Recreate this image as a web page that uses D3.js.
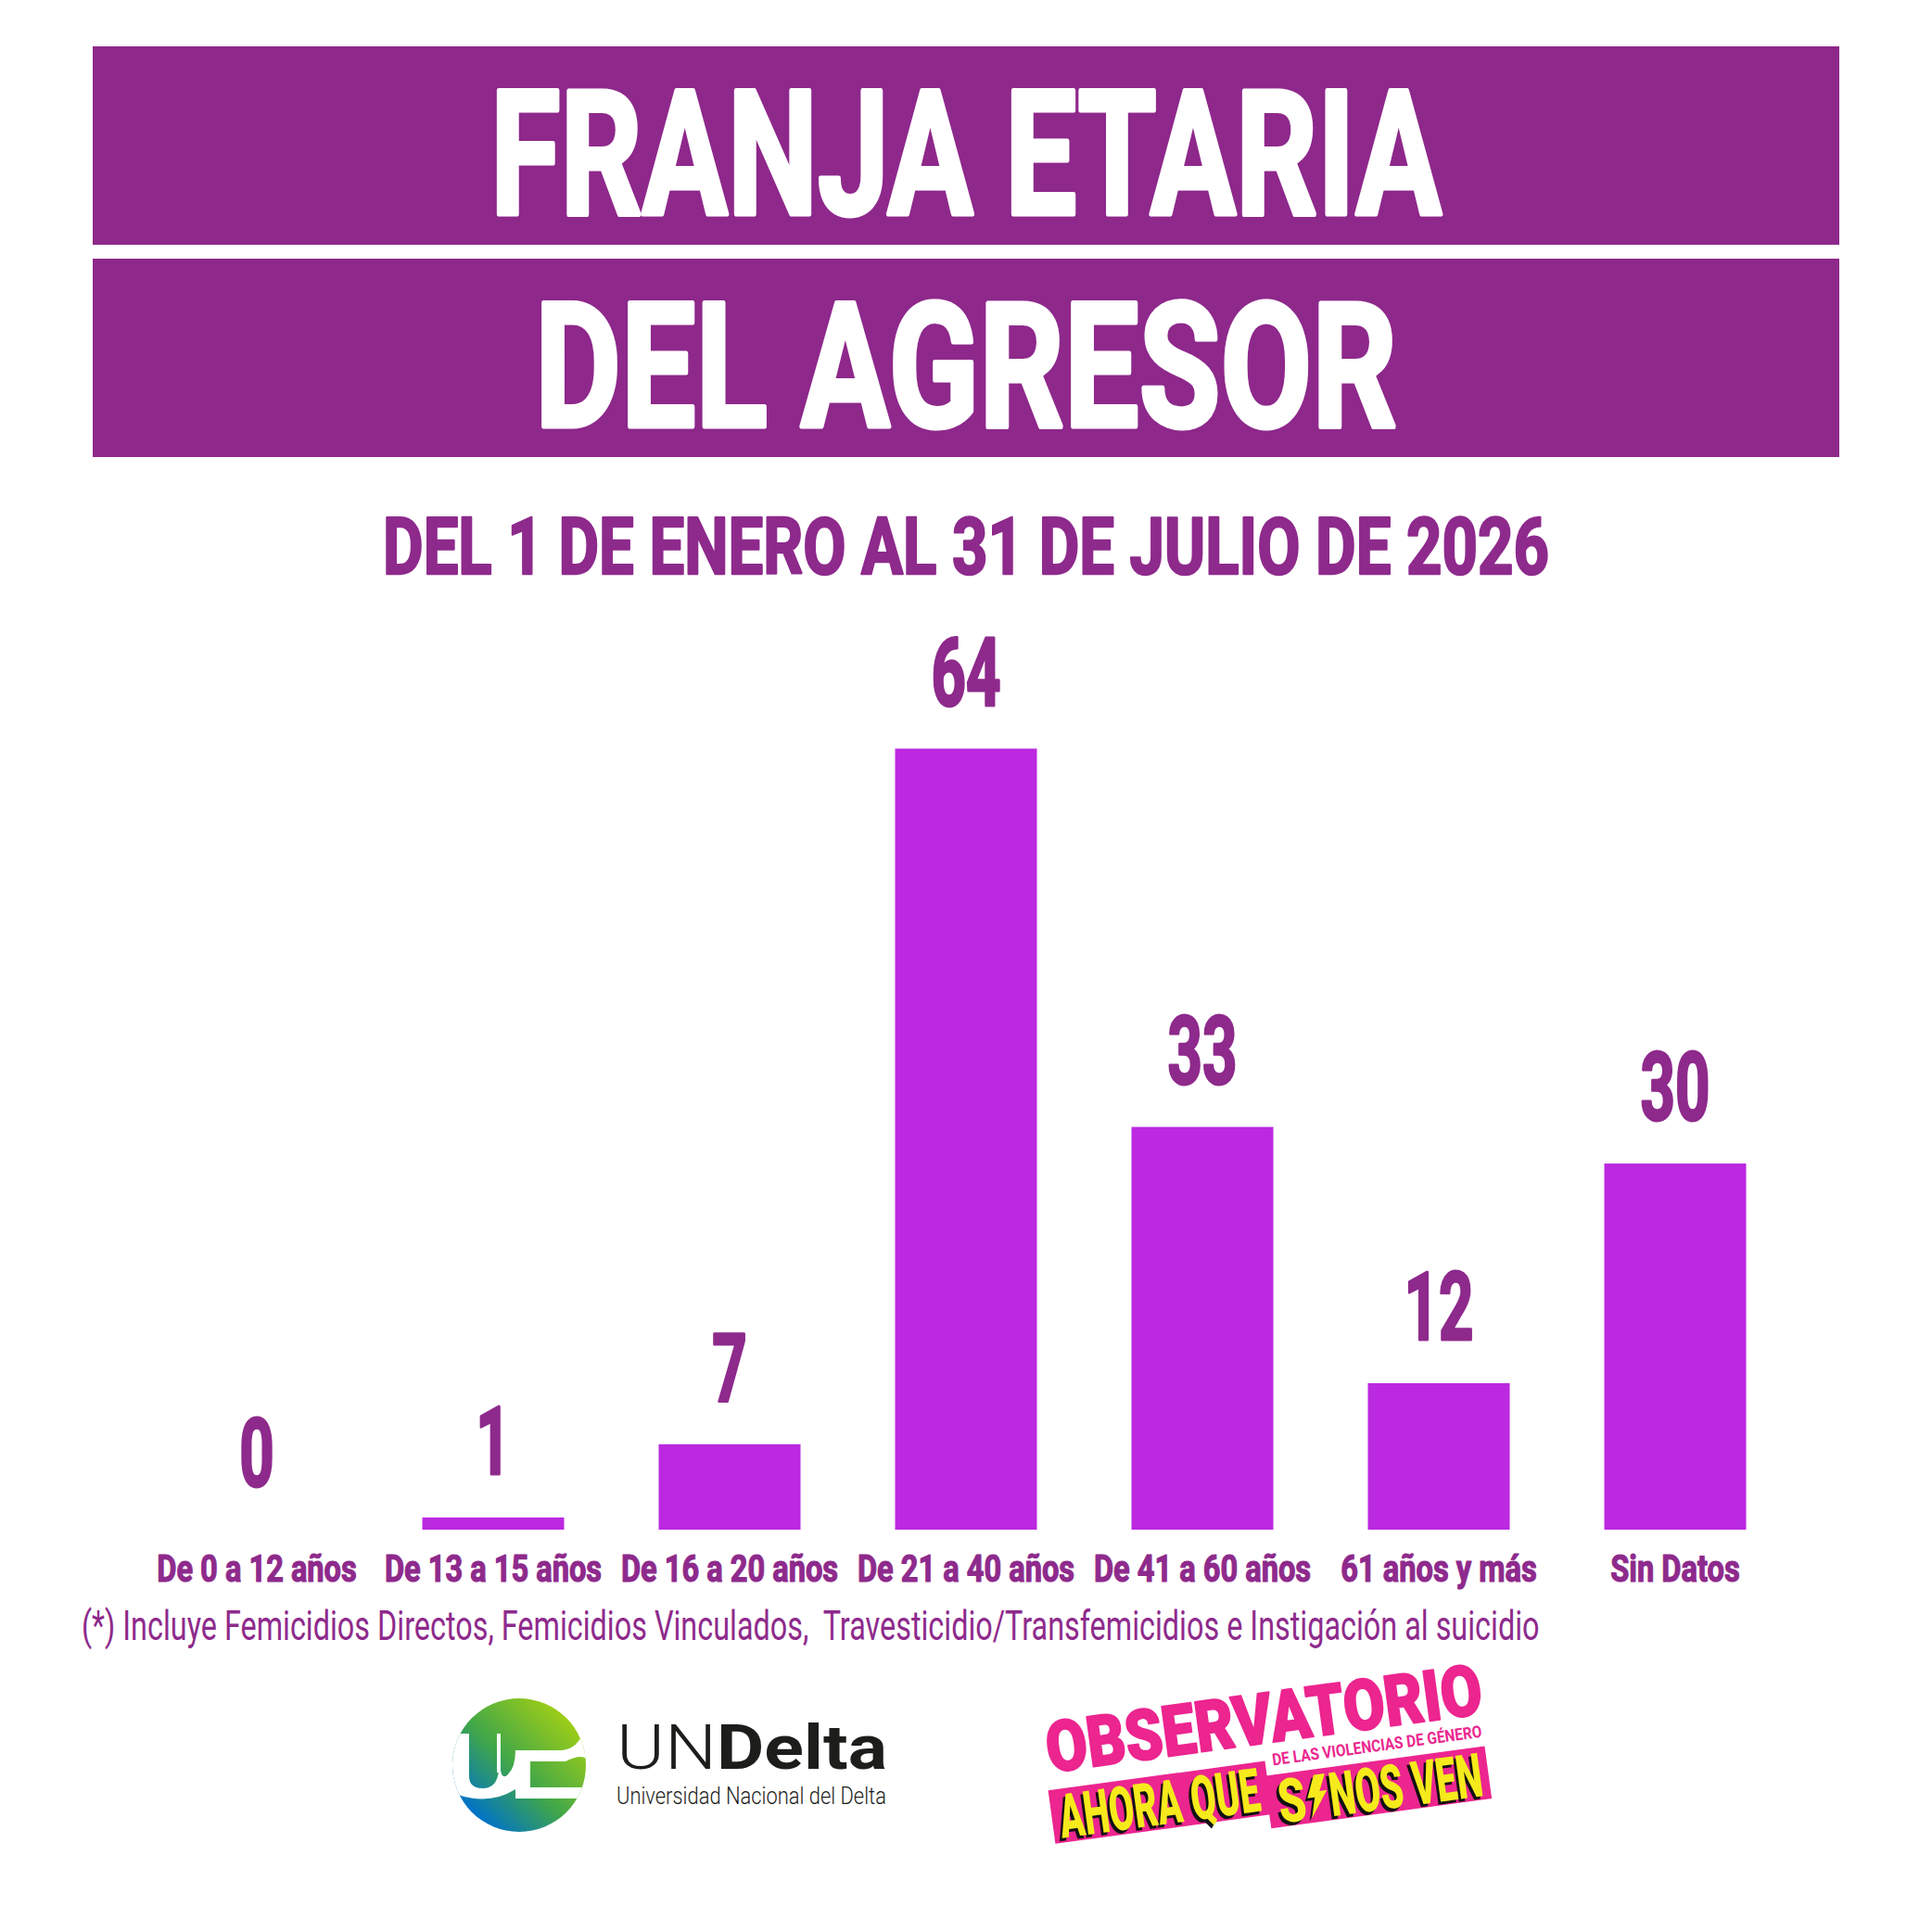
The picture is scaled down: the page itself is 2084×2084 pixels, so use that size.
<!DOCTYPE html>
<html>
<head>
<meta charset="utf-8">
<script src="https://cdn.jsdelivr.net/npm/d3@7"></script>
<style>
  body { margin: 0; background: #fff; }
  text { white-space: pre; }
</style>
</head>
<body>
<div id="chart"></div>
<script>
// data
const categories = ["De 0 a 12 años", "De 13 a 15 años", "De 16 a 20 años", "De 21 a 40 años",
                    "De 41 a 60 años", "61 años y más", "Sin Datos"];
const values = [0, 1, 7, 64, 33, 12, 30];
const titleLines = ["FRANJA ETARIA", "DEL AGRESOR"];
const subtitle = "DEL 1 DE ENERO AL 31 DE JULIO DE 2026";
const footnote = "(*) Incluye Femicidios Directos, Femicidios Vinculados,  Travesticidio/Transfemicidios e Instigación al suicidio";

const W = 2084, H = 2084;
const purple = "#8e288b";
const textPurple = "#8e2a8c";
const barColor = "#bb29e1";
const font = "Roboto, 'Open Sans', sans-serif";

const svg = d3.select("#chart").append("svg")
    .attr("width", W)
    .attr("height", H)
    .attr("viewBox", `0 0 ${W} ${H}`);

svg.append("rect").attr("width", W).attr("height", H).attr("fill", "#fff");

// horizontal squeeze, stands in for the condensed face of the original
function squeezeBy(sel, k) {
    sel.each(function () {
        const t = d3.select(this);
        const x = +t.attr("x") || 0, y = +t.attr("y") || 0;
        t.attr("x", 0).attr("y", 0)
            .attr("transform", `translate(${x},${y}) scale(${k},1)`);
    });
}
function squeezeTo(sel, w) {
    sel.each(function () {
        const n = this.getComputedTextLength();
        d3.select(this).call(squeezeBy, w / n);
    });
}
// a same-colour outline makes the strokes as heavy as the original face
function heavy(sel, color, sw) {
    sel.attr("stroke", color).attr("stroke-width", sw).attr("stroke-linejoin", "round");
}

// title bands
const bands = [{ y: 50, h: 214, base: 233, w: 1026 }, { y: 279, h: 214, base: 462, w: 930 }];
bands.forEach((b, i) => {
    svg.append("rect")
        .attr("x", 100).attr("y", b.y)
        .attr("width", 1884).attr("height", b.h)
        .attr("fill", purple);
    svg.append("text")
        .attr("x", W / 2).attr("y", b.base - 2)
        .attr("text-anchor", "middle")
        .attr("font-family", font).attr("font-weight", 700)
        .attr("font-size", 187)
        .attr("fill", "#fff")
        .call(heavy, "#fff", 5)
        .text(titleLines[i])
        .call(squeezeTo, b.w);
});

svg.append("text")
    .attr("x", W / 2).attr("y", 619)
    .attr("text-anchor", "middle")
    .attr("font-family", font).attr("font-weight", 700)
    .attr("font-size", 86)
    .attr("fill", textPurple)
    .call(heavy, textPurple, 2.5)
    .text(subtitle)
    .call(squeezeTo, 1258);

// bar chart
const x = d3.scaleBand()
    .domain(categories)
    .range([149.5, 1934.5])
    .paddingInner(0.4)
    .paddingOuter(0.2);

const y = d3.scaleLinear()
    .domain([0, 64])
    .range([1650, 807.5]);

const data = categories.map((c, i) => ({ cat: c, value: values[i] }));

svg.append("g").selectAll("rect")
    .data(data)
    .join("rect")
    .attr("x", d => x(d.cat))
    .attr("y", d => y(d.value))
    .attr("width", x.bandwidth())
    .attr("height", d => y(0) - y(d.value))
    .attr("fill", barColor);

svg.append("g").selectAll("text")
    .data(data)
    .join("text")
    .attr("x", d => x(d.cat) + x.bandwidth() / 2)
    .attr("y", d => y(d.value) - 47)
    .attr("text-anchor", "middle")
    .attr("font-family", font).attr("font-weight", 700)
    .attr("font-size", 102)
    .attr("fill", textPurple)
    .call(heavy, textPurple, 3)
    .text(d => d.value)
    .call(squeezeBy, 0.64);

// category axis, no line or ticks
const xAxis = svg.append("g")
    .attr("transform", "translate(0,1706)")
    .call(d3.axisBottom(x).tickSize(0).tickPadding(0));
xAxis.select(".domain").remove();
xAxis.selectAll("text")
    .attr("dy", 0)
    .attr("font-family", font).attr("font-weight", 700)
    .attr("font-size", 40)
    .attr("fill", textPurple)
    .call(heavy, textPurple, 1.2)
    .call(squeezeBy, 0.815);

svg.append("text")
    .attr("x", 88).attr("y", 1769)
    .attr("font-family", font).attr("font-weight", 400)
    .attr("font-size", 45)
    .attr("fill", textPurple)
    .text(footnote)
    .call(squeezeTo, 1573);

// UNDelta logo
const defs = svg.append("defs");
const grad = defs.append("linearGradient").attr("id", "undGrad")
    .attr("x1", "15%").attr("y1", "85%").attr("x2", "85%").attr("y2", "15%");
grad.append("stop").attr("offset", "0%").attr("stop-color", "#0073c8");
grad.append("stop").attr("offset", "45%").attr("stop-color", "#3fa64a");
grad.append("stop").attr("offset", "100%").attr("stop-color", "#9ccc18");
defs.append("clipPath").attr("id", "undClip")
    .append("circle").attr("cx", 76).attr("cy", 76).attr("r", 72);

const und = svg.append("g").attr("transform", "translate(484,1828)");
und.append("circle").attr("cx", 76).attr("cy", 76).attr("r", 72).attr("fill", "url(#undGrad)");
const undMarks = und.append("g").attr("clip-path", "url(#undClip)").attr("fill", "#fff");
undMarks.append("rect").attr("x", 0).attr("y", 42).attr("width", 22).attr("height", 48);
undMarks.append("rect").attr("x", 52).attr("y", 42).attr("width", 4).attr("height", 42);
undMarks.append("path")
    .attr("d", "M0 88 H22 Q22 101 37 101 Q52 101 54 82 H56 Q58 92 64 86 Q72 78 72 60 V102 Q40 122 0 104 Z");
undMarks.append("rect").attr("x", 72).attr("y", 60).attr("width", 16).attr("height", 52);
undMarks.append("rect").attr("x", 72).attr("y", 60).attr("width", 54).attr("height", 12);
undMarks.append("rect").attr("x", 72).attr("y", 100).attr("width", 90).attr("height", 12);
undMarks.append("path")
    .attr("d", "M122 60 Q140 58 146 38 L160 38 L160 72 L150 72 Q146 62 126 72 Z");

const undText = svg.append("text")
    .attr("x", 665).attr("y", 1908)
    .attr("font-family", font)
    .attr("font-size", 66)
    .attr("fill", "#1d1d1b");
undText.append("tspan").attr("font-weight", 300).text("UN");
undText.append("tspan").attr("font-weight", 700).text("Delta");
undText.call(squeezeTo, 292);

svg.append("text")
    .attr("x", 665).attr("y", 1946)
    .attr("font-family", font).attr("font-weight", 300)
    .attr("font-size", 25)
    .attr("fill", "#1d1d1b")
    .text("Universidad Nacional del Delta")
    .call(squeezeTo, 291);

// Observatorio logo, tilted
const pink = "#ec258f", yellow = "#f6ea1c";
const obs = svg.append("g").attr("transform", "translate(1132,1912) rotate(-7.75)");
obs.append("text")
    .attr("x", 0).attr("y", 0)
    .attr("font-family", font).attr("font-weight", 900)
    .attr("font-size", 76)
    .attr("fill", pink)
    .call(heavy, pink, 2)
    .text("OBSERVATORIO")
    .call(squeezeTo, 474);
obs.append("text")
    .attr("x", 240).attr("y", 25)
    .attr("font-family", font).attr("font-weight", 700)
    .attr("font-size", 18)
    .attr("fill", pink)
    .text("DE LAS VIOLENCIAS DE GÉNERO")
    .call(squeezeTo, 228);
obs.append("rect").attr("x", -4).attr("y", 19).attr("width", 236).attr("height", 58).attr("fill", pink);
obs.append("rect").attr("x", 229).attr("y", 35).attr("width", 240).attr("height", 57).attr("fill", pink);

function yellowText(txt, tx, ty, w) {
    [["#111", -3, 3], [yellow, 0, 0]].forEach(([c, dx, dy]) => {
        obs.append("text")
            .attr("x", tx + dx).attr("y", ty + dy)
            .attr("font-family", font).attr("font-weight", 900)
            .attr("font-size", 66)
            .attr("fill", c)
            .text(txt)
            .call(squeezeTo, w);
    });
}
yellowText("AHORA QUE", 4, 72, 218);
yellowText("S", 240, 88, 30);
yellowText("NOS VEN", 296, 88, 166);
[["#111", -3, 3], [yellow, 0, 0]].forEach(([c, dx, dy]) => {
    obs.append("path")
        .attr("transform", `translate(${272 + dx},${41 + dy})`)
        .attr("d", "M10 0 H22 L14 18 H22 L2 46 L8 24 H0 Z")
        .attr("fill", c);
});
</script>
</body>
</html>
